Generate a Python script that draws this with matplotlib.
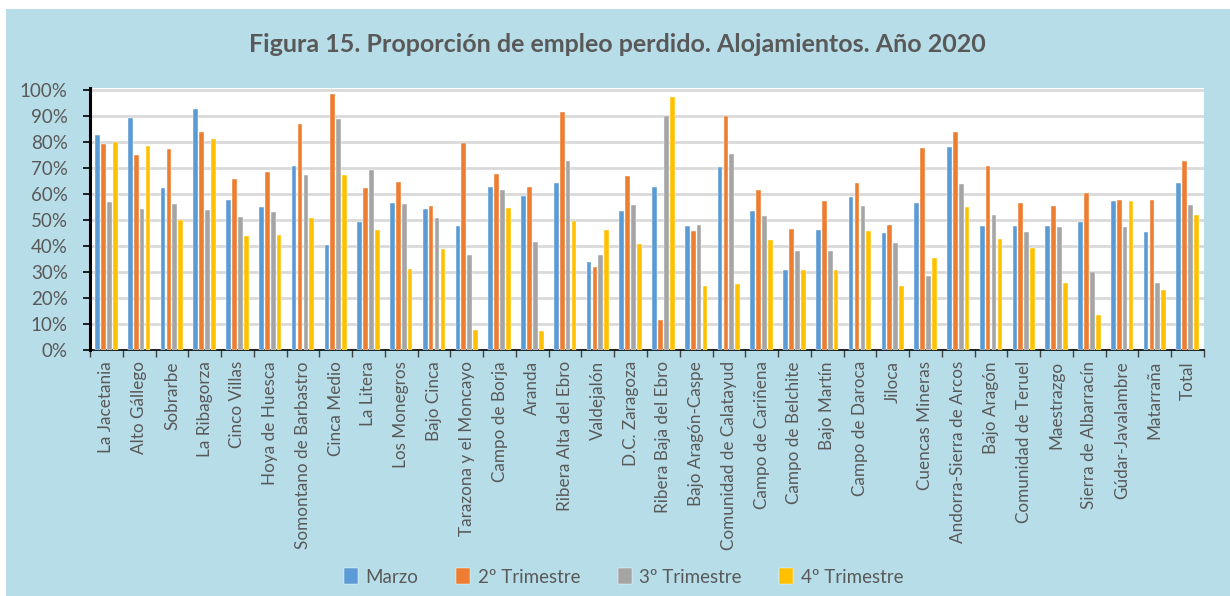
import matplotlib.pyplot as plt
import numpy as np
from matplotlib.patches import Rectangle
from matplotlib.ticker import FuncFormatter, FixedLocator

comarcas = [
    "La Jacetania", "Alto Gállego", "Sobrarbe", "La Ribagorza", "Cinco Villas",
    "Hoya de Huesca", "Somontano de Barbastro", "Cinca Medio", "La Litera",
    "Los Monegros", "Bajo Cinca", "Tarazona y el Moncayo", "Campo de Borja",
    "Aranda", "Ribera Alta del Ebro", "Valdejalón", "D.C. Zaragoza",
    "Ribera Baja del Ebro", "Bajo Aragón-Caspe", "Comunidad de Calatayud",
    "Campo de Cariñena", "Campo de Belchite", "Bajo Martín", "Campo de Daroca",
    "Jiloca", "Cuencas Mineras", "Andorra-Sierra de Arcos", "Bajo Aragón",
    "Comunidad de Teruel", "Maestrazgo", "Sierra de Albarracín",
    "Gúdar-Javalambre", "Matarraña", "Total",
]

marzo = [82.5, 89.1, 62.4, 92.8, 57.8, 54.9, 70.6, 40.3, 49.2, 56.5, 54.3, 47.8,
         62.7, 59.3, 64.3, 33.9, 53.3, 62.7, 47.6, 70.2, 53.3, 30.9, 46.3, 58.9,
         44.8, 56.5, 77.9, 47.8, 47.7, 47.6, 49.1, 57.2, 45.5, 64.1]
trim2 = [79.0, 74.8, 77.4, 83.6, 65.9, 68.5, 87.0, 98.5, 62.1, 64.6, 55.2, 79.5,
         67.6, 62.8, 91.3, 32.0, 66.8, 11.6, 45.9, 90.0, 61.4, 46.5, 57.4, 64.1,
         48.0, 77.6, 83.6, 70.8, 56.6, 55.2, 60.5, 57.5, 57.5, 72.6]
trim3 = [56.9, 54.2, 56.1, 53.7, 51.0, 52.9, 67.1, 88.9, 69.3, 56.3, 50.9, 36.7,
         61.5, 41.4, 72.5, 36.7, 55.9, 90.0, 48.2, 75.2, 51.4, 38.1, 37.9, 55.4,
         41.3, 28.3, 63.7, 51.8, 45.4, 47.2, 29.8, 47.2, 25.7, 55.8]
trim4 = [79.8, 78.5, 50.1, 81.2, 43.7, 44.1, 50.9, 67.4, 46.3, 31.2, 38.7, 7.7,
         54.7, 7.2, 49.5, 46.3, 40.8, 97.1, 24.7, 25.3, 42.1, 30.7, 30.8, 45.9,
         24.7, 35.2, 55.1, 42.5, 39.1, 25.7, 13.4, 57.4, 23.1, 51.7]

series = ["Marzo", "2º Trimestre", "3º Trimestre", "4º Trimestre"]
colors = ["#5b9bd5", "#ed7d31", "#a5a5a5", "#ffc000"]
bg = "#b7dde8"
text_col = "#595959"

plt.rcParams["font.family"] = ["Lato", "DejaVu Sans"]

fig = plt.figure(figsize=(12.3, 5.96), dpi=100, facecolor="white")
fig.patches.append(Rectangle((6 / 1230, 0), 1, 1 - 9 / 596, transform=fig.transFigure,
                             facecolor=bg, edgecolor="none", zorder=-10))

ax = fig.add_axes([90 / 1230, 1 - 350 / 596, (1204 - 90) / 1230, (350 - 88) / 596])
ax.set_facecolor("white")

x = np.arange(len(comarcas))
step = 0.18
width = 0.145
for i, (name, vals, c) in enumerate(zip(series, [marzo, trim2, trim3, trim4], colors)):
    ax.bar(x + (i - 1.5) * step, np.array(vals) / 100, width=width, color=c,
           label=name, zorder=3, edgecolor="white", linewidth=0.3)

ax.set_xlim(-0.5, len(comarcas) - 0.5)
ax.set_ylim(0, 1.007)
ax.set_yticks(np.arange(0, 1.01, 0.1))
ax.yaxis.set_major_formatter(FuncFormatter(lambda v, p: f"{v * 100:.0f}%"))
ax.grid(axis="y", color="#d9d9d9", linewidth=2, zorder=0)
ax.tick_params(axis="y", direction="out", length=5, width=1.2, color="black",
               labelsize=13.5, labelcolor=text_col, pad=11)

ax.set_xticks(x)
ax.set_xticklabels(comarcas, rotation=90, fontsize=12.3, color=text_col)
ax.xaxis.set_minor_locator(FixedLocator(np.arange(-0.5, len(comarcas), 1)))
ax.tick_params(axis="x", which="major", length=0, pad=8)
ax.tick_params(axis="x", which="minor", length=5, width=1, color="#404040")

for s in ["top", "right"]:
    ax.spines[s].set_visible(False)
ax.spines["left"].set_linewidth(2.2)
ax.spines["left"].set_color("black")
ax.spines["bottom"].set_linewidth(1.2)
ax.spines["bottom"].set_color("black")

fig.text(0.502, 1 - 45 / 596, "Figura 15. Proporción de empleo perdido. Alojamientos. Año 2020",
         ha="center", va="center", fontsize=18, fontweight="bold", color=text_col)

fig.legend(loc="center", bbox_to_anchor=(0.507, 1 - 577 / 596), ncol=4, frameon=False,
           fontsize=13.5, labelcolor=text_col, handlelength=0.75, handleheight=0.9,
           handletextpad=0.4, columnspacing=2.0)

fig.savefig("out.png", dpi=100, facecolor="white")
